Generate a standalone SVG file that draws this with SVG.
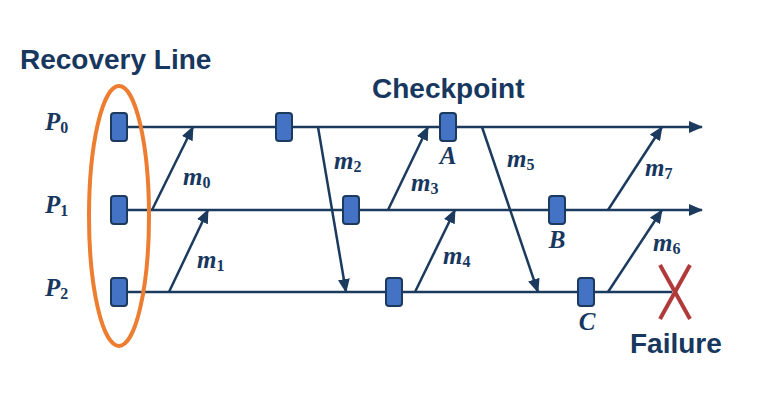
<svg xmlns="http://www.w3.org/2000/svg" width="782" height="404" viewBox="0 0 782 404">
<style>
.title{font-family:"Liberation Sans",Arial,sans-serif;font-weight:bold;font-size:28px;fill:#17375E}
.math{font-family:"Liberation Serif","DejaVu Serif",serif;font-weight:bold;font-style:italic;font-size:25px;fill:#17375E}
.sub{font-size:16px;font-style:normal}
.line{stroke:#1B3A5E;stroke-width:2.5;fill:none}
.msg{stroke:#1B3A5E;stroke-width:2.5;fill:none;marker-end:url(#ah)}
.cp{fill:#4472C4;stroke:#1B3A5E;stroke-width:2}
</style>
<defs>
<marker id="ah" markerUnits="userSpaceOnUse" markerWidth="14" markerHeight="12" viewBox="0 0 14 12" refX="13" refY="6" orient="auto">
<path d="M0,0 L14,6 L0,12 Z" fill="#1B3A5E"/>
</marker>
</defs>
<rect width="782" height="404" fill="#fff"/>
<g id="titles">
<text class="title" x="20" y="69">Recovery Line</text>
<text class="title" x="372" y="98">Checkpoint</text>
<text class="title" x="630" y="353">Failure</text>
</g>
<g id="process-labels">
<text class="math" x="45" y="130" font-size="22">P<tspan class="sub" dy="3">0</tspan></text>
<text class="math" x="45" y="213" font-size="22">P<tspan class="sub" dy="3">1</tspan></text>
<text class="math" x="45" y="296" font-size="22">P<tspan class="sub" dy="3">2</tspan></text>
</g>
<g id="timelines">
<line class="msg" x1="128" y1="127" x2="702" y2="127"/>
<line class="msg" x1="128" y1="210" x2="702" y2="210"/>
<line class="line" x1="128" y1="292" x2="672" y2="292"/>
</g>
<g id="connectors">
<line class="msg" x1="152" y1="210" x2="193" y2="127"/>
<line class="msg" x1="169" y1="292" x2="208" y2="210"/>
<line class="msg" x1="318" y1="127" x2="346" y2="292"/>
<line class="msg" x1="388" y1="210" x2="428" y2="127"/>
<line class="msg" x1="415" y1="292" x2="455" y2="210"/>
<line class="msg" x1="482" y1="127" x2="538" y2="292"/>
<line class="msg" x1="608" y1="292" x2="662" y2="210"/>
<line class="msg" x1="608" y1="210" x2="662" y2="127"/>
</g>
<g id="message-labels">
<text class="math" x="183" y="185">m<tspan class="sub" dy="3">0</tspan></text>
<text class="math" x="197" y="268">m<tspan class="sub" dy="3">1</tspan></text>
<text class="math" x="334" y="169">m<tspan class="sub" dy="3">2</tspan></text>
<text class="math" x="411" y="191">m<tspan class="sub" dy="3">3</tspan></text>
<text class="math" x="443" y="264">m<tspan class="sub" dy="3">4</tspan></text>
<text class="math" x="507" y="167">m<tspan class="sub" dy="3">5</tspan></text>
<text class="math" x="653" y="251">m<tspan class="sub" dy="3">6</tspan></text>
<text class="math" x="645" y="176">m<tspan class="sub" dy="3">7</tspan></text>
</g>
<g id="checkpoints">
<rect class="cp" x="111" y="113" width="16" height="28" rx="3"/>
<rect class="cp" x="111" y="196" width="16" height="28" rx="3"/>
<rect class="cp" x="111" y="278" width="16" height="28" rx="3"/>
<rect class="cp" x="276" y="113" width="16" height="28" rx="3"/>
<rect class="cp" x="440" y="113" width="16" height="28" rx="3"/>
<rect class="cp" x="343" y="196" width="16" height="28" rx="3"/>
<rect class="cp" x="549" y="196" width="16" height="28" rx="3"/>
<rect class="cp" x="386" y="278" width="16" height="28" rx="3"/>
<rect class="cp" x="578" y="278" width="16" height="28" rx="3"/>
</g>
<g id="checkpoint-labels">
<text class="math" x="448" y="164" text-anchor="middle" font-size="21">A</text>
<text class="math" x="557" y="248" text-anchor="middle" font-size="21">B</text>
<text class="math" x="587" y="330" text-anchor="middle" font-size="21">C</text>
</g>
<g id="recovery-line">
<ellipse cx="119" cy="216" rx="30" ry="130" fill="none" stroke="#ED7D31" stroke-width="4"/>
</g>
<g id="failure">
<line x1="660" y1="265" x2="690" y2="319" stroke="#B03A3A" stroke-width="4"/>
<line x1="690" y1="265" x2="660" y2="319" stroke="#B03A3A" stroke-width="4"/>
</g>
</svg>
